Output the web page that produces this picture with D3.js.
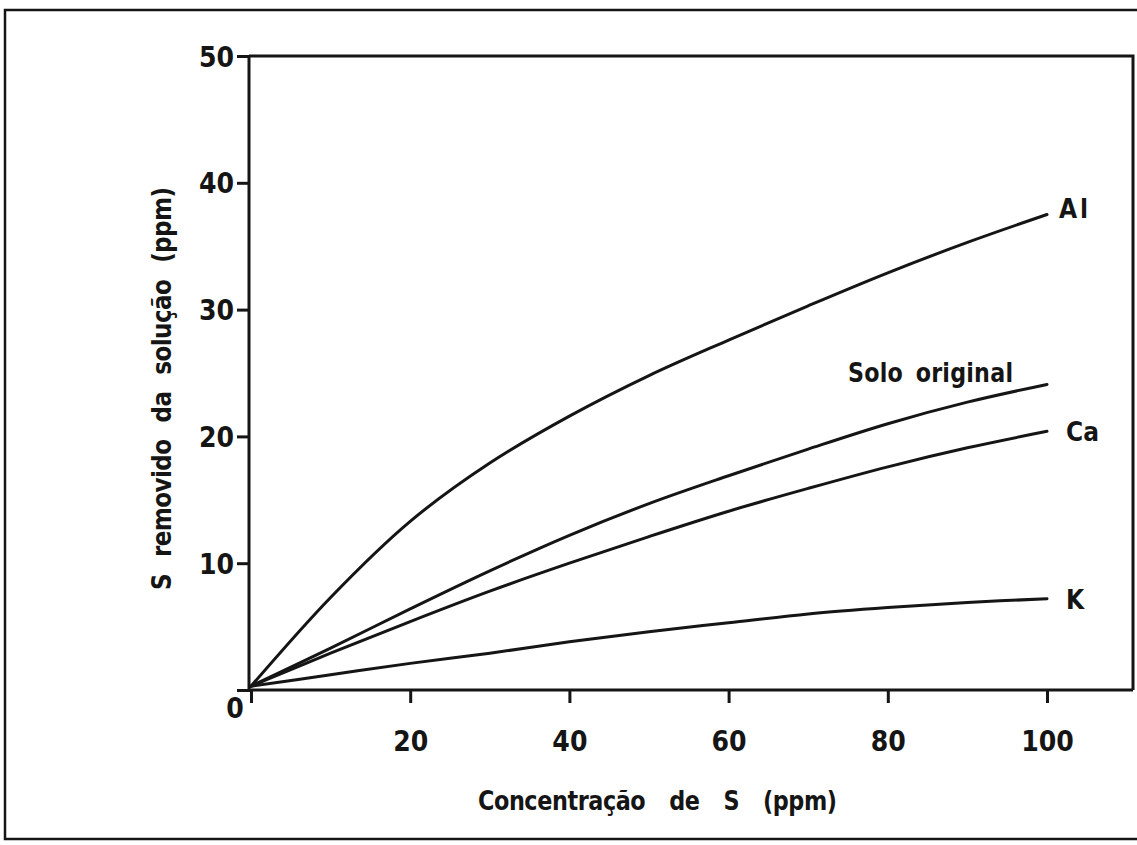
<!DOCTYPE html>
<html>
<head>
<meta charset="utf-8">
<script src="https://cdn.jsdelivr.net/npm/d3@7"></script>
<style>
  body { margin: 0; background: #fff; }
  svg text {
    font-family: "DejaVu Sans Condensed", "DejaVu Sans", sans-serif;
    font-weight: bold;
    font-stretch: condensed;
    fill: #151515;
  }
</style>
</head>
<body>
<svg id="chart" width="1137" height="845"></svg>
<script>
// concentration of S (ppm) and S removed from solution (ppm)
const concentration = [0, 10, 20, 30, 40, 50, 60, 70, 80, 90, 100];
const alValues   = [0.3, 7.3, 13.3, 17.9, 21.6, 24.8, 27.6, 30.3, 32.9, 35.3, 37.5];
const soloValues = [0.3, 3.3, 6.4, 9.4, 12.2, 14.7, 16.9, 19.0, 21.0, 22.7, 24.1];
const caValues   = [0.3, 2.9, 5.4, 7.8, 10.0, 12.1, 14.1, 15.9, 17.6, 19.1, 20.4];
const kValues    = [0.3, 1.2, 2.1, 2.9, 3.8, 4.6, 5.3, 6.0, 6.5, 6.9, 7.2];

const seriesNames = ["Al", "Solo original", "Ca", "K"];
const xTicks = [0, 20, 40, 60, 80, 100];
const yTicks = [0, 10, 20, 30, 40, 50];
const xTitle = "Concentração de S (ppm)";
const yTitle = "S removido da solução (ppm)";

const ink = "#151515";
const plot = {left: 251, right: 1133, top: 56, bottom: 690};

const svg = d3.select("#chart");

// lettering in the scan is tall and narrow: squeeze the glyphs horizontally
function narrowText(x, y, angle, squeeze, str, length, size, wordGap) {
    const g = svg.append("g")
        .attr("transform", `translate(${x}, ${y}) rotate(${angle}) scale(${squeeze}, 1)`);
    return g.append("text")
        .attr("textLength", length / squeeze)
        .attr("lengthAdjust", "spacing")
        .style("word-spacing", `${wordGap}px`)
        .style("font-size", `${size}px`)
        .text(str);
}

// outer frame of the figure
svg.append("rect")
    .attr("x", 5).attr("y", 10)
    .attr("width", 1200).attr("height", 829)
    .style("fill", "none")
    .style("stroke", ink)
    .style("stroke-width", 2.5);

const xScale = d3.scaleLinear().domain([0, 100]).range([plot.left, 1047]);
const yScale = d3.scaleLinear().domain([0, 50]).range([plot.bottom, plot.top]);

// box top and right
svg.append("path")
    .attr("d", `M${plot.left - 2},${plot.top}H${plot.right}V${plot.bottom}`)
    .style("fill", "none")
    .style("stroke", ink)
    .style("stroke-width", 3);

// x axis
const gx = svg.append("g")
    .attr("transform", `translate(0, ${plot.bottom})`)
    .call(d3.axisBottom(xScale).tickValues(xTicks).tickSize(13).tickSizeOuter(0)
        .tickFormat(d => d === 0 ? "" : d));
gx.select(".domain").remove();
gx.append("line")
    .attr("x1", plot.left - 2).attr("x2", plot.right)
    .style("stroke", ink).style("stroke-width", 3);
gx.selectAll(".tick line").style("stroke", ink).style("stroke-width", 3);
gx.selectAll(".tick text")
    .attr("y", 61).attr("dy", 0)
    .style("font-size", "28px")
    .style("fill", ink);

// y axis
const gy = svg.append("g")
    .attr("transform", `translate(${plot.left - 2}, 0)`)
    .call(d3.axisLeft(yScale).tickValues(yTicks).tickSize(12).tickSizeOuter(0)
        .tickFormat(d => d === 0 ? "" : d));
gy.select(".domain").remove();
gy.append("line")
    .attr("y1", plot.top).attr("y2", plot.bottom + 2)
    .style("stroke", ink).style("stroke-width", 3);
gy.selectAll(".tick line").style("stroke", ink).style("stroke-width", 3);
gy.selectAll(".tick text")
    .attr("x", -15).attr("dy", "0.36em")
    .style("font-size", "28px")
    .style("fill", ink);

// shared origin label
svg.append("text")
    .attr("x", xScale(0) - 16)
    .attr("y", plot.bottom + 28)
    .attr("text-anchor", "middle")
    .style("font-size", "28px")
    .text("0");

// curves
const series = [alValues, soloValues, caValues, kValues].map((vals, i) => ({
    name: seriesNames[i],
    points: concentration.map((c, j) => ({x: c, y: vals[j]}))
}));

const line = d3.line()
    .x(d => xScale(d.x))
    .y(d => yScale(d.y))
    .curve(d3.curveCatmullRom.alpha(0.5));

svg.selectAll(".curve")
    .data(series)
    .join("path")
        .classed("curve", true)
        .attr("d", d => line(d.points))
        .style("fill", "none")
        .style("stroke", ink)
        .style("stroke-width", 3)
        .style("stroke-linecap", "round");

// curve labels
series.forEach(s => {
    const last = s.points[s.points.length - 1];
    if (s.name === "Solo original") {
        narrowText(xScale(last.x) - 199, yScale(last.y) - 2, 0, 0.95, s.name, 165, 26, 5);
        return;
    }
    const t = svg.append("text")
        .style("font-size", "26px")
        .text(s.name);
    if (s.name === "Al") {
        t.attr("x", xScale(last.x) + 12)
         .attr("y", yScale(last.y) + 3)
         .attr("letter-spacing", 3);
    } else {
        t.attr("x", xScale(last.x) + 19)
         .attr("y", yScale(last.y) + 10);
    }
});

// axis titles
narrowText(478, 810, 0, 0.92, xTitle, 359, 27, 18);
narrowText(171, 590, -90, 0.95, yTitle, 403, 27, 10);
</script>
</body>
</html>
